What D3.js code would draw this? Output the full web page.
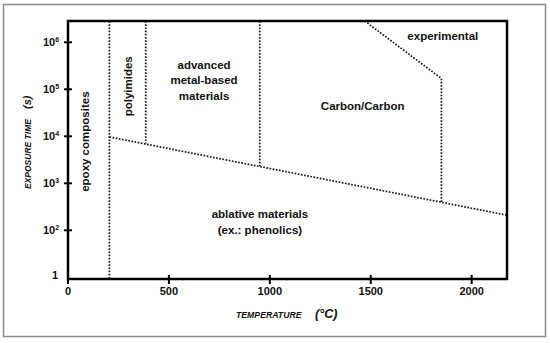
<!DOCTYPE html>
<html>
<head>
<meta charset="utf-8">
<script src="https://cdn.jsdelivr.net/npm/d3@7"></script>
<style>
  body { margin: 0; background: #fff; }
  svg { display: block; font-family: "Liberation Sans", Arial, sans-serif; }
  .lbl { font-weight: bold; font-size: 11.5px; fill: #111; }
</style>
</head>
<body>
<svg id="chart" width="550" height="343"></svg>
<script>
// ticks
const xTicks = [0, 500, 1000, 1500, 2000];
const yTicks = [1, 1e2, 1e3, 1e4, 1e5, 1e6];
const yExp = ["", "2", "3", "4", "5", "6"];

const tMax = 2175;
const sMax = 2.84e6;

// region boundaries [temperature, exposure time]
const epoxyLine = [[205, sMax], [205, 1]];
const polyimideLine = [[385, sMax], [385, 7000]];
const metalLine = [[950, sMax], [950, 2330]];
const ablativeLine = [[205, 9700], [tMax, 210]];
const carbonLine = [[1470, sMax], [1850, 1.7e5], [1850, 395]];

// region labels: text lines, temperature, exposure time, rotated?
const regionNames = [
  ["epoxy composites"],
  ["polyimides"],
  ["advanced", "metal-based", "materials"],
  ["experimental"],
  ["Carbon/Carbon"],
  ["ablative materials", "(ex.: phenolics)"]
];
const regionT = [84, 296, 674, 1857, 1460, 951];
const regionS = [7700, 1.16e5, 1.56e5, 1.36e6, 4.35e4, 152];
const regionRot = [true, true, false, false, false, false];

const svg = d3.select("#chart");

// outer frame
svg.append("rect")
  .attr("x", 3.5).attr("y", 4.5)
  .attr("width", 542).attr("height", 332)
  .attr("fill", "#fff")
  .attr("stroke", "#8a8a8a")
  .attr("stroke-width", 1.5);

const pLeft = 68, pTop = 21, pRight = 507, pBottom = 279;

const x = d3.scaleLinear().domain([0, tMax]).range([pLeft, pRight]);
// bottom decade is broken: 1 sits one decade below 10^2
const y = d3.scaleLog().domain([1, 100, sMax]).range([pBottom, 230.3, pTop]);

const line = d3.line().x(d => x(d[0])).y(d => y(d[1]));

// dotted boundaries
[epoxyLine, polyimideLine, metalLine, ablativeLine, carbonLine].forEach(function(pts){
  svg.append("path")
    .attr("d", line(pts))
    .attr("fill", "none")
    .attr("stroke", "#1a1a1a")
    .attr("stroke-width", 1.7)
    .attr("stroke-dasharray", "1.7,1.5");
});

// plot box
svg.append("rect")
  .attr("x", pLeft).attr("y", pTop)
  .attr("width", pRight - pLeft).attr("height", pBottom - pTop)
  .attr("fill", "none")
  .attr("stroke", "#000")
  .attr("stroke-width", 2.5);

// x axis ticks (crossing the axis)
svg.append("g")
  .selectAll("line")
  .data(xTicks).enter()
  .append("line")
    .attr("x1", d => x(d)).attr("x2", d => x(d))
    .attr("y1", pBottom - 4).attr("y2", pBottom + 5)
    .attr("stroke", "#000").attr("stroke-width", 2);

svg.append("g")
  .selectAll("text")
  .data(xTicks).enter()
  .append("text")
    .attr("x", d => x(d))
    .attr("y", pBottom + 16)
    .attr("text-anchor", "middle")
    .attr("font-weight", "bold")
    .attr("font-size", "11px")
    .attr("fill", "#111")
    .text(d => d);

// y axis ticks
svg.append("g")
  .selectAll("line")
  .data(yTicks.slice(1)).enter()
  .append("line")
    .attr("x1", pLeft - 4).attr("x2", pLeft + 4)
    .attr("y1", d => y(d)).attr("y2", d => y(d))
    .attr("stroke", "#000").attr("stroke-width", 2);

let yLab = svg.append("g")
  .selectAll("text")
  .data(yTicks).enter()
  .append("text")
    .attr("x", (d, i) => i == 0 ? pLeft - 10 : pLeft - 25)
    .attr("y", (d, i) => y(d) + (i == 0 ? 0 : 4))
    .attr("text-anchor", (d, i) => i == 0 ? "end" : "start")
    .attr("font-weight", "bold")
    .attr("font-size", "11px")
    .attr("fill", "#111");
yLab.append("tspan").text((d, i) => i == 0 ? "1" : "10");
yLab.append("tspan")
  .attr("font-size", "7px")
  .attr("dy", -4)
  .text((d, i) => yExp[i]);

// axis titles
let xt = svg.append("text")
  .attr("x", 236).attr("y", 318)
  .attr("font-style", "italic")
  .attr("fill", "#111");
xt.append("tspan").attr("font-size", "8.7px").attr("font-weight", "bold").text("TEMPERATURE");
xt.append("tspan").attr("x", 315).attr("font-size", "12.5px").attr("font-weight", "bold").text("(°C)");

let yt = svg.append("text")
  .attr("transform", "translate(31,189) rotate(-90)")
  .attr("font-style", "italic")
  .attr("fill", "#111");
yt.append("tspan").attr("font-size", "8.5px").attr("font-weight", "bold").text("EXPOSURE TIME");
yt.append("tspan").attr("x", 80).attr("font-size", "11px").attr("font-weight", "bold").text("(s)");

// region labels
regionNames.forEach(function(lines, i){
  let cx = x(regionT[i]), cy = y(regionS[i]);
  let g = svg.append("g")
    .attr("transform", "translate(" + cx + "," + cy + ")" + (regionRot[i] ? " rotate(-90)" : ""));
  let lh = 15.5;
  g.selectAll("text")
    .data(lines).enter()
    .append("text")
      .attr("class", "lbl")
      .attr("text-anchor", "middle")
      .attr("y", (d, j) => (j - (lines.length - 1) / 2) * lh + 4)
      .text(d => d);
});
</script>
</body>
</html>
